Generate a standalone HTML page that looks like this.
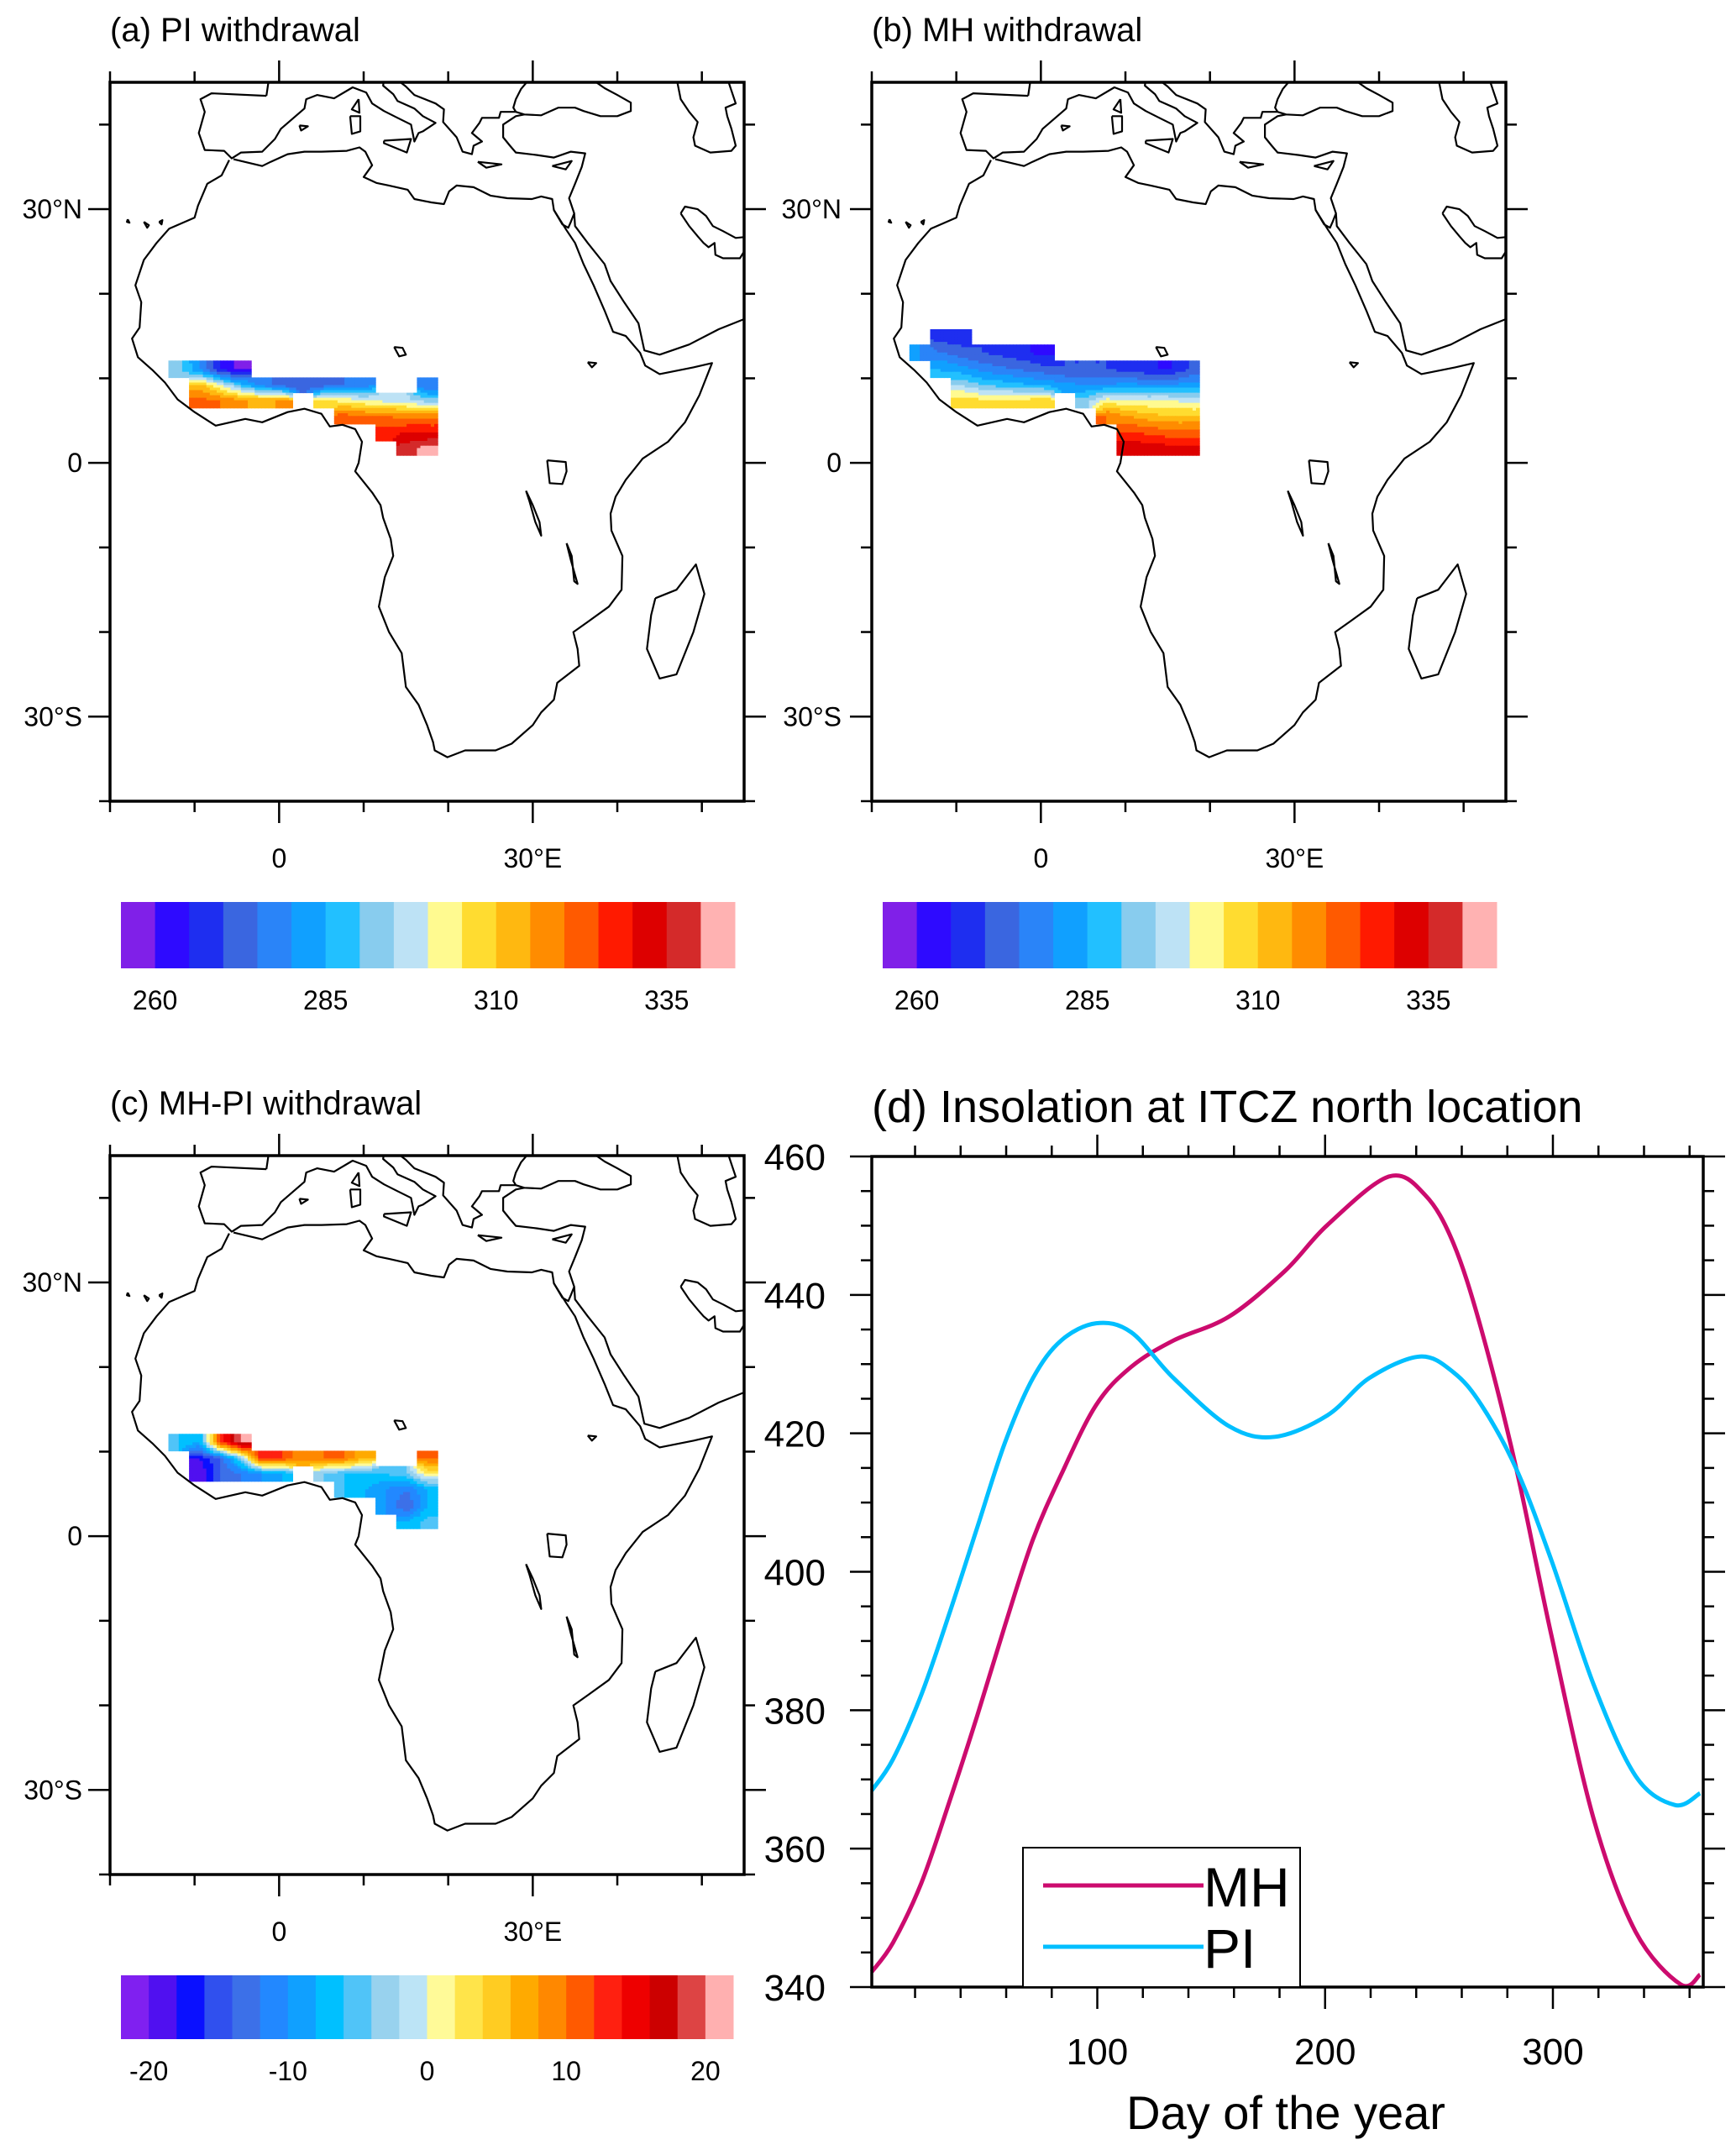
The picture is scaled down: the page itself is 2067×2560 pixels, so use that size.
<!DOCTYPE html>
<html><head><meta charset="utf-8"><style>
html,body{margin:0;padding:0;background:#fff}
svg{display:block;font-family:"Liberation Sans",Arial,sans-serif}
</style></head><body>
<svg id="fig" width="2067" height="2560" viewBox="0 0 2067 2560" xmlns="http://www.w3.org/2000/svg">
<defs>
<clipPath id="clipA"><rect x="131" y="98" width="755" height="856"/></clipPath>
<clipPath id="clipB"><rect x="1038" y="98" width="755" height="856"/></clipPath>
<clipPath id="clipC"><rect x="131" y="1376" width="755" height="856"/></clipPath>
</defs>
<g id="root"></g>
</svg>
<script>
// ---------- chart data ----------
const days = [1,10.3,22.7,34.9,47.2,59.5,71.8,84.1,99.5,114.9,133.4,158,182.5,201,228,244,256.4,268.6,284,299.4,317.9,336.3,356,364.6];
const mhValues = [342.2,346.4,355.0,366.6,379.1,392.3,404.7,414.0,424.1,429.6,433.4,436.9,443.5,450.1,457.1,454.4,447.4,435,414.8,390.7,364.3,348,340.4,341.8];
const piDays = [1,10.3,22.7,34.9,47.2,59.5,71.8,84.1,99.5,114.9,133.4,158,178,201,219.5,241.6,256.4,268.6,284,299.4,317.9,336.3,353.5,364.6];
const piValues = [368.4,372.9,382.2,393.8,406.3,418.7,428,433.4,435.9,434.6,428,421,419.5,422.6,428,431.1,428.8,424.1,414.8,401.6,383.7,370.5,366.3,368];
const yTickLabels = ["340","360","380","400","420","440","460"];
const xTickLabels = ["100","200","300"];
const levelLabelsAB = ["260","285","310","335"];
const levelLabelsC = ["-20","-10","0","10","20"];
// field grid (lat rows, lon columns); null = missing
const rowLatEdges = [15.8,14.0,12.1,10.1,8.3,6.5,4.6,2.6,0.9];
const colLonStart = -15.55, colLonStep = 2.45;
const N = null;
const fieldA = [
 [N,N,N,N,N,N,N,N,N,N,N,N,N,N],
 [N,N,N,N,N,N,N,N,N,N,N,N,N,N],
 [N,292,280,265,258,N,N,N,N,N,N,N,N,N],
 [N,N,312,300,288,278,272,270,272,275,278,N,N,275],
 [N,N,322,320,316,313,316,N,306,303,300,298,296,292],
 [N,N,N,N,N,N,N,N,N,322,320,320,318,318],
 [N,N,N,N,N,N,N,N,N,N,N,328,330,330],
 [N,N,N,N,N,N,N,N,N,N,N,N,338,342]];
const fieldB = [
 [N,267,267,N,N,N,N,N,N,N,N,N,N,N],
 [280,275,272,270,268,266,263,N,N,N,N,N,N,N],
 [N,285,282,278,276,274,272,270,270,270,268,266,264,270],
 [N,N,295,290,288,286,284,282,280,280,282,280,280,282],
 [N,N,308,306,306,306,308,N,292,302,300,300,300,298],
 [N,N,N,N,N,N,N,N,N,320,315,312,310,310],
 [N,N,N,N,N,N,N,N,N,N,325,324,322,322],
 [N,N,N,N,N,N,N,N,N,N,334,334,332,332]];
const fieldC = [
 [N,N,N,N,N,N,N,N,N,N,N,N,N,N],
 [N,N,N,N,N,N,N,N,N,N,N,N,N,N],
 [N,-6,-8,12,20,N,N,N,N,N,N,N,N,N],
 [N,N,-18,-14,-4,14,12,8,10,10,6,N,N,10],
 [N,N,-20,-14,-12,-10,-8,N,-4,-6,-6,-6,-4,2],
 [N,N,N,N,N,N,N,N,N,-6,-8,-10,-12,-8],
 [N,N,N,N,N,N,N,N,N,N,N,-10,-14,-8],
 [N,N,N,N,N,N,N,N,N,N,N,N,-8,-5]];
const colorsAB = ["#8020e8","#2e0aff","#1e2ef0","#3a66e0","#2a84f8","#10a0ff","#22c0ff","#88ccee","#bde2f5","#fffa90","#ffdc30","#ffb810","#ff8c00","#ff5a00","#ff1a00","#dd0000","#d42a2a","#ffb2b2"];
const colorsC = ["#8020f0","#5010f0","#0a10ff","#3050ee","#3c70e8","#2288ff","#10a0ff","#00c0ff","#50c4f8","#98d2ee","#bce4f6","#fffa98","#ffe44a","#ffcc22","#ffaa00","#ff8800","#ff5a00","#ff2010","#ee0000","#cc0000","#dd4444","#ffb0b0"];

// ---------- coastlines (lon,lat) ----------
const coasts = [
 [[-5.9,35.8],[-6.8,34],[-8.5,33],[-9.6,30.4],[-10,29],[-13,27.7],[-14.5,26],[-16,24],[-17,21],[-16.3,19],[-16.5,16],[-17.4,14.7],[-16.7,12.5],[-15,11],[-13.5,9.5],[-12,7.5],[-10,6],[-7.5,4.4],[-4,5.2],[-2,4.8],[1,6],[3,6.4],[5,5.8],[6,4.3],[7.5,4.5],[9,4],[9.8,2.5],[9.4,0],[9,-1],[11,-3.5],[12,-5],[12.3,-6.5],[13.2,-9],[13.5,-11],[12.5,-13.5],[11.8,-17],[13,-20],[14.5,-22.5],[15,-26.5],[16.5,-28.6],[17.5,-31],[18.2,-33],[18.4,-34],[19.9,-34.8],[22,-34],[25.6,-34],[27.5,-33.2],[30,-31],[31,-29.5],[32.5,-28],[32.9,-26],[35.5,-24],[35.3,-22],[34.8,-20],[36.5,-18.8],[39,-17],[40.5,-15],[40.6,-11],[39.3,-8],[39.2,-6],[39.8,-4],[41,-2],[43,0.5],[46,2.5],[48,4.8],[49.7,8],[51.2,11.8],[49,11.3],[45,10.5],[43.3,11.5],[42.7,13],[41,15],[39.5,15.5],[38.5,18],[37.2,21],[36,23.5],[35,26],[34,27.5],[32.5,29.9],[32.3,31.2],[31,31.5],[29.9,31.2],[27,31.3],[25,31.6],[23,32.6],[21,32.8],[20.1,32.1],[19.5,30.6],[18,30.8],[16,31.2],[15.2,32.3],[13,32.8],[11.5,33.1],[10,33.8],[11,35.2],[10.2,36.8],[9.5,37.3],[8,36.9],[5,36.8],[3,36.8],[1,36.5],[-1,35.6],[-2,35.1],[-5.4,35.9]],
 [[32.5,29.9],[33.5,28.2],[34.2,27.8],[34.5,28.5],[34.9,29.5],[35,28],[36.5,26],[38.5,23.5],[39.2,21.5],[40.8,19],[42.5,16.5],[43.2,13.3],[45,12.8],[48.5,14],[52,15.8],[55,17]],
 [[34.9,29.5],[34.3,31.3],[35,33],[35.8,35],[36.2,36.6],[34.5,36.8],[32.5,36.1],[30.5,36.4],[28,36.7],[27.3,37.5],[26.5,38.5],[26.5,40],[28,41],[29,41.2]],
 [[47.5,29.5],[48.5,28],[49.5,26.8],[50.2,26],[50.8,25.5],[51.5,26],[51.6,24.6],[52.5,24.2],[54.5,24.2],[55,25]],
 [[47.5,29.5],[48,30.3],[49.5,30],[50.5,29.2],[51.3,28],[52.5,27.4],[54,26.6],[55,26.7]],
 [[28,41.5],[29,41.2],[31,41.1],[33,42],[35,42],[36,41.6],[38,41],[40,41],[41.6,41.6],[41.6,42.6],[40,43.5],[38.5,44.3],[37.5,45],[36.5,45.5]],
 [[29.7,45.5],[28.6,44.2],[28,43],[27.7,42],[28,41.5]],
 [[47,45.5],[47.5,43],[48.5,41.5],[49.5,40.3],[49,38.5],[49.2,37.5],[51,36.7],[53.5,36.9],[54,37.5],[53.5,39.5],[53,41],[52.8,42],[54,42.5],[53,45.5]],
 [[-1.5,43.4],[-8,43.7],[-9.3,43],[-8.8,41.5],[-9.5,39],[-8.8,37],[-6.5,36.9],[-5.6,36],[-4.5,36.7],[-2,36.8],[-0.5,38.3],[0.2,39.5],[3,41.9],[3.2,43],[4.5,43.5],[6.5,43.1],[8.7,44.4],[10.3,43.8],[11,42.5],[12.4,41.6],[14,40.8],[15.6,40],[16,38],[16.5,39],[17,39.2],[18.5,40.2],[17,41],[16,41.9],[14,42.8],[13.5,43.6],[12.3,44.6],[12.4,45.5]],
 [[-1.5,43.4],[-1.2,45.5]],
 [[13.7,45.5],[15,44.5],[16,43.5],[18.5,42.5],[19.5,41.8],[19.4,40.3],[21,38.5],[21.7,36.8],[22.8,36.5],[23,37.5],[24,38],[22.8,39],[23.7,40.2],[24,40.8],[26,40.8],[26.2,41.5],[28,41.5]],
 [[12.4,38.1],[15.6,38.3],[15.1,36.7],[12.4,37.8],[12.4,38.1]],
 [[8.4,41],[9.6,41],[9.6,39.2],[8.6,38.9],[8.4,41]],
 [[9.4,43],[9.5,41.4],[8.6,41.8],[9.4,43]],
 [[23.5,35.6],[26.3,35.3],[24.5,34.9],[23.5,35.6]],
 [[32.3,35.1],[34.6,35.7],[33.9,34.7],[32.3,35.1]],
 [[2.4,39.9],[3.4,39.8],[2.6,39.3],[2.4,39.9]],
 [[44.5,-16],[47,-15],[49.3,-12],[50.3,-15.5],[49,-20],[47,-25],[45,-25.5],[43.5,-22],[44,-18],[44.5,-16]],
 [[-16,28.5],[-15.4,28.1],[-15.6,27.8],[-16,28.5]],
 [[-14.2,28.5],[-13.8,28.7],[-13.9,28.2],[-14.2,28.5]],
 [[-17.9,28.8],[-17.7,28.4],[-18,28.5],[-17.9,28.8]],
 [[31.7,0.3],[33.9,0.1],[34,-1],[33.5,-2.5],[32,-2.4],[31.7,0.3]],
 [[29.2,-3.3],[29.6,-4.5],[30.3,-7],[31,-8.6],[30.8,-7],[30,-5],[29.2,-3.3]],
 [[34,-9.5],[34.6,-11],[34.9,-14],[35.3,-14.3],[34.5,-11.5],[34,-9.5]],
 [[13.6,13.7],[14.6,13.6],[15,12.8],[14.2,12.6],[13.6,13.7]],
 [[36.5,11.9],[37.5,11.8],[37,11.3],[36.5,11.9]]
];

const NS="http://www.w3.org/2000/svg";
const root=document.getElementById('root');
function el(tag,attrs,parent){const e=document.createElementNS(NS,tag);for(const k in attrs)e.setAttribute(k,attrs[k]);(parent||root).appendChild(e);return e;}
function txt(x,y,s,size,anchor,parent){const t=el('text',{x:x,y:y,'font-size':size,'text-anchor':anchor||'start',fill:'#000'},parent);t.textContent=s;return t;}

// smooth value within field (bilinear between cell centres, ignoring missing)
function sampleField(field,r,c,fr,fc){
 // fr,fc in [0,1) position inside cell r,c
 const dr=fr-0.5, dc=fc-0.5;
 const r2=r+(dr<0?-1:1), c2=c+(dc<0?-1:1);
 const wr=Math.abs(dr), wc=Math.abs(dc);
 const get=(i,j)=>(i>=0&&i<field.length&&j>=0&&j<field[0].length)?field[i][j]:null;
 const pts=[[r,c,(1-wr)*(1-wc)],[r2,c,wr*(1-wc)],[r,c2,(1-wr)*wc],[r2,c2,wr*wc]];
 let s=0,w=0;
 pts.forEach(p=>{const v=get(p[0],p[1]);if(v!==null){s+=v*p[2];w+=p[2];}});
 return s/w;
}

// ---------- map panels ----------
function drawMap(ox,oy,clip,field,colors,valToIdx,title,leftLabelsX,name){
 const g=el('g',{});
 
 
 const px=lon=>ox+(lon+20)*10.067, py=lat=>oy+(45-lat)*10.07;
 const fg=el('g',{'clip-path':'url(#'+clip+')'},g);
 
 
 const SUB=6;
 for(let r=0;r<field.length;r++)for(let c=0;c<field[r].length;c++){
  const v=field[r][c]; if(v===null)continue;
  const l0=colLonStart+c*colLonStep, l1=l0+colLonStep;
  const x0=px(l0),x1=px(l1),y0=py(rowLatEdges[r]),y1=py(rowLatEdges[r+1]);
  const cg=el('g',{},fg);
  
  
  for(let i=0;i<SUB;i++)for(let j=0;j<SUB;j++){
   const val=sampleField(field,r,c,(i+0.5)/SUB,(j+0.5)/SUB);
   const sx=x0+(x1-x0)*j/SUB, sy=y0+(y1-y0)*i/SUB;
   el('rect',{x:sx.toFixed(1),y:sy.toFixed(1),width:((x1-x0)/SUB+0.6).toFixed(1),height:((y1-y0)/SUB+0.6).toFixed(1),fill:colors[valToIdx(val)]},cg);
  }
 }
 const cg=el('g',{'clip-path':'url(#'+clip+')',fill:'none',stroke:'#000','stroke-width':2.2,'stroke-linejoin':'round'},g);
 
 
 coasts.forEach(p=>{el('path',{d:'M'+p.map(q=>px(q[0]).toFixed(1)+','+py(q[1]).toFixed(1)).join('L')},cg);});
 const fr=el('rect',{x:ox,y:oy,width:755,height:856,fill:'none',stroke:'#000','stroke-width':3.5},g);
 
 
 const tg=el('g',{stroke:'#000','stroke-width':2.5},g);
 for(let lon=-20;lon<=50;lon+=10){const M=(lon===0||lon===30),L=M?26:13,x=px(lon);
  el('line',{x1:x,y1:oy+856,x2:x,y2:oy+856+L},tg);el('line',{x1:x,y1:oy,x2:x,y2:oy-L},tg);}
 for(let lat=-40;lat<=40;lat+=10){const M=(lat%30===0),L=M?26:13,y=py(lat);
  el('line',{x1:ox,y1:y,x2:ox-L,y2:y},tg);el('line',{x1:ox+755,y1:y,x2:ox+755+L,y2:y},tg);}
 const lg=el('g',{},g);
 
 
 txt(px(0),oy+935,'0',32,'middle',lg);
 txt(px(30),oy+935,'30°E',32,'middle',lg);
 [['30°N',30],['0',0],['30°S',-30]].forEach(a=>{txt(leftLabelsX,py(a[1])+11,a[0],32,'end',lg);});
 const t=txt(ox,oy-49,title,40,'start',g);
 
 
}
const idxAB=v=>Math.max(0,Math.min(17,Math.floor((v-260)/5)+1));
const idxC=v=>Math.max(0,Math.min(21,Math.floor((v+20)/2)+1));
drawMap(131,98,'clipA',fieldA,colorsAB,idxAB,'(a) PI withdrawal',98,'panel-a-map');
drawMap(1038,98,'clipB',fieldB,colorsAB,idxAB,'(b) MH withdrawal',1002,'panel-b-map');
drawMap(131,1376,'clipC',fieldC,colorsC,idxC,'(c) MH-PI withdrawal',98,'panel-c-map');

// ---------- colorbars ----------
function colorbar(x0,y0,w,h,colors,labels,labelIdx,name){
 const g=el('g',{});
 
 
 const bw=w/colors.length;
 colors.forEach((c,i)=>{const r=el('rect',{x:x0+i*bw,y:y0,width:bw+0.5,height:h,fill:c},g);
  
  });
 labels.forEach((s,i)=>{txt(x0+labelIdx[i]*bw,y0+h+49,s,32,'middle',g);});
}
colorbar(144,1074,731,79,colorsAB,levelLabelsAB,[1,6,11,16],'colorbar-a');
colorbar(1051,1074,731,79,colorsAB,levelLabelsAB,[1,6,11,16],'colorbar-b');
colorbar(144,2352,729,76,colorsC,levelLabelsC,[1,6,11,16,21],'colorbar-c');

// ---------- panel d line chart ----------
const dX0=1038,dX1=2028,dY0=1377,dY1=2366;
const xScale=d=>dX0+(d-1)*(dX1-dX0)/365;
const yScale=v=>dY1-(v-340)/120*(dY1-dY0);
const dg=el('g',{});


const dt=txt(1038,1336,'(d) Insolation at ITCZ north location',54,'start',dg);


function smoothPath(xsArr,ysArr){
 const P=xsArr.map((d,i)=>[xScale(d),yScale(ysArr[i])]);
 let s='M'+P[0][0].toFixed(1)+','+P[0][1].toFixed(1);
 for(let i=0;i<P.length-1;i++){
  const p0=P[Math.max(0,i-1)],p1=P[i],p2=P[i+1],p3=P[Math.min(P.length-1,i+2)];
  const c1=[p1[0]+(p2[0]-p0[0])/6,p1[1]+(p2[1]-p0[1])/6];
  const c2=[p2[0]-(p3[0]-p1[0])/6,p2[1]-(p3[1]-p1[1])/6];
  s+='C'+c1.map(v=>v.toFixed(1)).join(',')+' '+c2.map(v=>v.toFixed(1)).join(',')+' '+p2.map(v=>v.toFixed(1)).join(',');
 }
 return s;
}
const mhLine=el('path',{d:smoothPath(days,mhValues),fill:'none',stroke:'#cc0b6e','stroke-width':5},dg);


const piLine=el('path',{d:smoothPath(piDays,piValues),fill:'none',stroke:'#00bfff','stroke-width':5},dg);


const dFrame=el('rect',{x:dX0,y:dY0,width:dX1-dX0,height:dY1-dY0,fill:'none',stroke:'#000','stroke-width':3.5},dg);


const dtg=el('g',{stroke:'#000','stroke-width':2.5},dg);
for(let d=20;d<=360;d+=20){const M=(d%100===0),L=M?26:13,x=xScale(d);
 el('line',{x1:x,y1:dY1,x2:x,y2:dY1+L},dtg);el('line',{x1:x,y1:dY0,x2:x,y2:dY0-L},dtg);}
for(let v=340;v<=460;v+=5){const M=(v%20===0),L=M?26:13,y=yScale(v);
 el('line',{x1:dX0,y1:y,x2:dX0-L,y2:y},dtg);el('line',{x1:dX1,y1:y,x2:dX1+L,y2:y},dtg);}
const xl=el('g',{},dg);


xTickLabels.forEach(s=>{txt(xScale(+s),2458,s,44,'middle',xl);});
const yl=el('g',{},dg);


yTickLabels.forEach(s=>{txt(983,yScale(+s)+16,s,44,'end',yl);});
const xt=txt(1531,2535,'Day of the year',56,'middle',dg);


const leg=el('g',{},dg);


el('rect',{x:1218,y:2200,width:330,height:166,fill:'#fff',stroke:'#000','stroke-width':2},leg);
const e1=el('g',{},leg);


el('line',{x1:1242,y1:2245,x2:1433,y2:2245,stroke:'#cc0b6e','stroke-width':5},e1);
txt(1433,2270,'MH',66,'start',e1);
const e2=el('g',{},leg);


el('line',{x1:1242,y1:2318,x2:1433,y2:2318,stroke:'#00bfff','stroke-width':5},e2);
txt(1433,2343,'PI',66,'start',e2);
</script>
</body></html>
